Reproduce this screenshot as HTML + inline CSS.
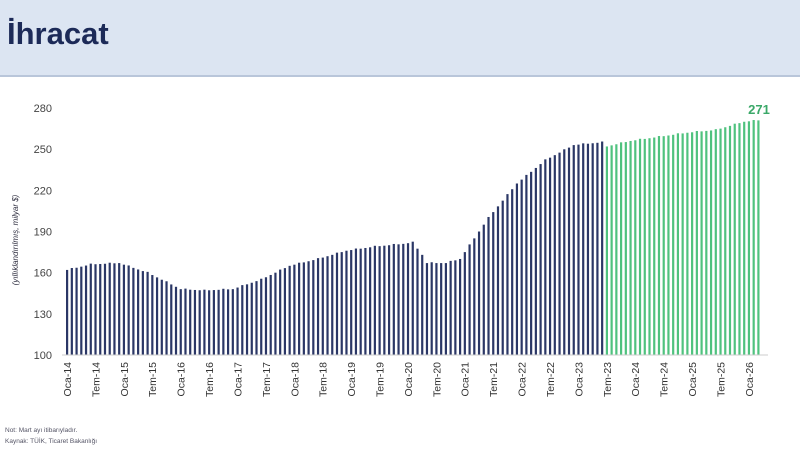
<!DOCTYPE html>
<html><head><meta charset="utf-8"><style>
body{margin:0;width:800px;height:450px;overflow:hidden;background:#fff;font-family:"Liberation Sans",sans-serif}
.hdr{position:absolute;left:0;top:0;width:800px;height:75px;background:#dce5f2;border-bottom:2px solid #b9c6da}
.t{position:absolute;left:7px;top:16px;font-size:31px;font-weight:bold;color:#1c2a58}
</style></head><body>
<div class="hdr"><div class="t">İhracat</div></div>
<svg id="s" width="800" height="450" style="position:absolute;left:0;top:0"></svg>
<script>
const s=document.getElementById('s');let h='';
const Y=v=>355-(v-100)*1.372;
[100,130,160,190,220,250,280].forEach(v=>{h+=`<text x="52" y="${Y(v)+4}" text-anchor="end" font-size="11" fill="#444">${v}</text>`});
h+=`<text transform="translate(18,240) rotate(-90)" text-anchor="middle" font-size="8" font-style="italic" fill="#334">(yıllıklandırılmış, milyar $)</text>`;
const k=[[0,162],[5,166],[11,167],[17,160],[24,148],[29,147],[35,148],[41,155],[47,165],[53,170],[59,176],[65,179],[71,181],[73,182],[75,173],[76,167],[80,167],[83,170],[86,185],[89,200],[95,225],[101,242],[107,253],[113,255],[114,252],[119,256],[125,259],[131,262],[137,264],[143,270],[146,271]];
function val(i){for(let j=0;j<k.length-1;j++){if(i>=k[j][0]&&i<=k[j+1][0]){const a=k[j],b=k[j+1];return a[1]+(b[1]-a[1])*(i-a[0])/(b[0]-a[0]);}}return 271;}
const x0=67,dx=4.735;
for(let i=0;i<147;i++){const v=val(i)+(i%4==1?0.6:0);const x=x0+i*dx;h+=`<rect x="${x-1}" y="${Y(v)}" width="2.2" height="${355-Y(v)}" fill="${i<114?'#2b3766':'#4fc27e'}"/>`}
h+=`<line x1="62" y1="355" x2="768" y2="355" stroke="#ccc"/>`;
for(let i=0;i<=24;i++){const yr=14+Math.floor(i/2);const lab=(i%2?'Tem-':'Oca-')+yr;const x=x0+i*6*dx;
h+=`<text transform="translate(${x+4},362) rotate(-90)" text-anchor="end" font-size="10.5" fill="#333">${lab}</text>`}
h+=`<text x="759" y="114" text-anchor="middle" font-size="13" font-weight="bold" fill="#3aa868">271</text>`;
h+=`<text x="5" y="432" font-size="6.5" fill="#556">Not: Mart ayı itibarıyladır.</text><text x="5" y="443" font-size="6.5" fill="#556">Kaynak: TÜİK, Ticaret Bakanlığı</text>`;
s.innerHTML=h;
</script>
</body></html>
